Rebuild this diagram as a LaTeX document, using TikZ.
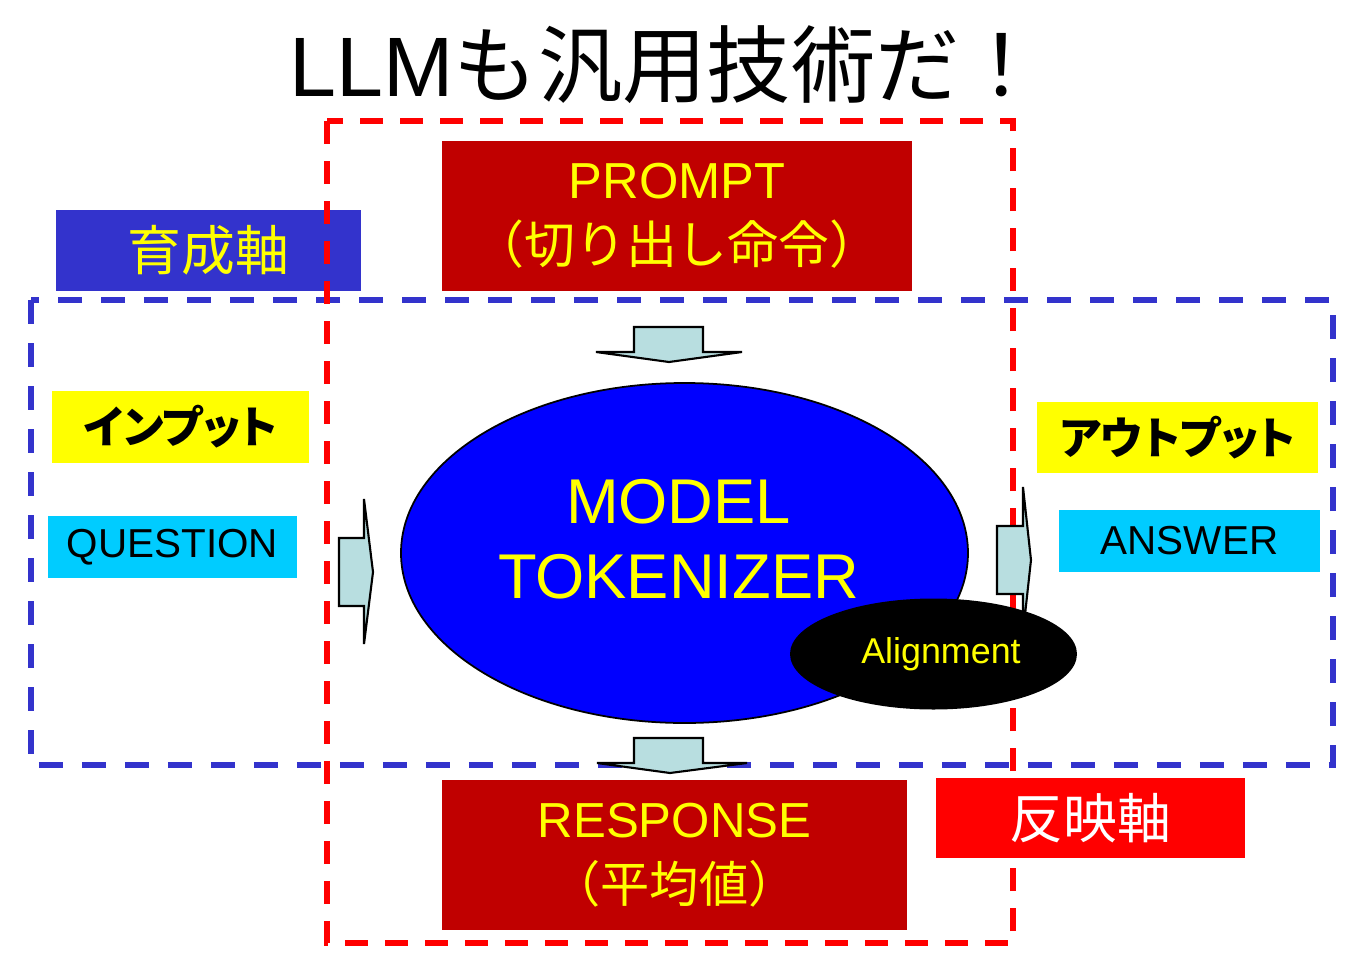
\documentclass[tikz,border=0pt]{standalone}
\usepackage{fontspec}
\setmainfont{Liberation Sans}
\newfontfamily\jp{Noto Sans CJK JP}
\newfontfamily\jpp[RawFeature=+palt]{Noto Sans CJK JP}
\usetikzlibrary{shapes.geometric,positioning}
\definecolor{darkred}{RGB}{192,0,0}
\definecolor{axisblue}{RGB}{51,51,204}
\definecolor{arrowgray}{RGB}{184,222,224}
\definecolor{qcyan}{RGB}{0,204,255}
\definecolor{ylw}{RGB}{255,255,0}

\begin{document}
\begin{tikzpicture}[x=0.1mm,y=-0.1mm,
        box/.style={rectangle,inner sep=0pt,align=center},
        redbox/.style={box,fill=darkred,text=ylw,minimum width=47mm,minimum height=15mm,
          font=\fontsize{14.4}{17.6}\selectfont},
        tagbox/.style={box,fill=ylw,text=black,font=\fontsize{12.6}{15}\selectfont\jpp\bfseries},
        ansbox/.style={box,fill=qcyan,text=black,font=\fontsize{11.5}{14}\selectfont},
        axisbox/.style={box,font=\fontsize{15.3}{18}\selectfont\jp},
        blockarrow/.style={draw=black,line width=0.6pt,fill=arrowgray,line join=miter},
        frame/.style={line width=1.7pt}]
        \useasboundingbox (0,0) rectangle (1360,980);
        \node (title) at (667,65) {\fontsize{24}{28}\selectfont LLM\jp も汎用技術だ！};
        \node (grow) [axisbox,fill=axisblue,text=ylw,minimum width=30.5mm,minimum height=8.1mm]
          at (208.5,250.5) {育成軸};
        \draw[frame,axisblue,dash pattern=on 2.4mm off 1.9mm] (31,300) rectangle (1333,765);
        \draw[frame,red,dash pattern=on 2.3mm off 1.7mm] (327,121) rectangle (1013,943);
        \node (prompt) [redbox] at (677,216)
          {PROMPT\\[1pt]{\jp\fontsize{14.5}{17}\selectfont （切り出し命令）}};
        \node (input) [tagbox,minimum width=25.7mm,minimum height=7.2mm] at (180.5,427) {インプット};
        \node (question) [ansbox,minimum width=24.9mm,minimum height=6.2mm] at (172.5,547) {QUESTION};
        \node (output) [tagbox,minimum width=28.1mm,minimum height=7.1mm] at (1177.5,437.5) {アウトプット};
        \node (answer) [ansbox,minimum width=26.1mm,minimum height=6.2mm] at (1189.5,541) {ANSWER};
        \node (model) [ellipse,draw=black,line width=0.5pt,fill=blue,inner sep=0pt,
          minimum width=56.7mm,minimum height=34mm] at (684.5,553) {};
        \node (modeltext) [align=center,text=ylw,font=\fontsize{18}{21.3}\selectfont]
          at ([xshift=-0.6mm,yshift=1.4mm]model.center) {MODEL\\TOKENIZER};
        \node (response) [redbox,minimum width=46.5mm,font=\fontsize{14}{17.6}\selectfont] at (674.5,855)
          {RESPONSE\\[1pt]{\jp\fontsize{14}{17}\selectfont （平均値）}};
        \draw[blockarrow] (634,327) -- (703,327) -- (703,352) -- (742,352) -- (669,362)
          -- (596,352) -- (634,352) -- cycle;
        \draw[blockarrow] (634,738) -- (703,738) -- (703,763) -- (747,763) -- (670,773)
          -- (597,763) -- (634,763) -- cycle;
        \draw[blockarrow] (339,538) -- (364,538) -- (364,499) -- (373,572) -- (364,644)
          -- (364,606) -- (339,606) -- cycle;
        \draw[blockarrow] (997,526) -- (1023,526) -- (1023,487) -- (1031,560) -- (1023,633)
          -- (1023,594) -- (997,594) -- cycle;
        \node (align) [ellipse,fill=black,inner sep=0pt,minimum width=28.7mm,minimum height=11.1mm,
          text=ylw,font=\fontsize{10.2}{12}\selectfont] at (933.5,654) {\hspace{1.5mm}Alignment};
        \node (reflect) [axisbox,fill=red,text=white,minimum width=30.9mm,minimum height=8mm]
          at (1090.5,818) {反映軸};
\end{tikzpicture}
\end{document}
